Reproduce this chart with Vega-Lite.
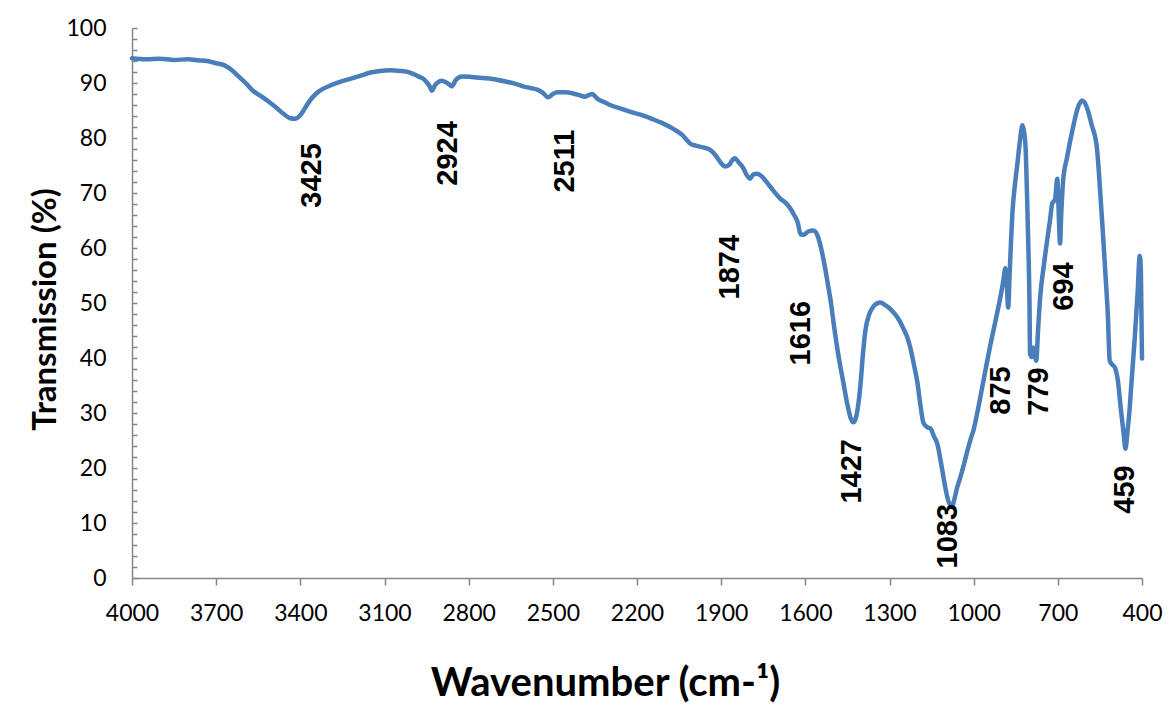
{
  "$schema": "https://vega.github.io/schema/vega-lite/v6.json",
  "autosize": {"type": "none"},
  "width": 1010,
  "height": 550,
  "padding": {"left": 132, "top": 28, "right": 28, "bottom": 149},
  "background": "white",
  "config": {"view": {"stroke": null}},
  "datasets": {
    "curve": [
      {"w":4000,"t":94.5},{"w":3950,"t":94.3},{"w":3900,"t":94.4},{"w":3850,"t":94.2},{"w":3800,"t":94.3},{"w":3760,"t":94.1},{"w":3733,"t":94.0},{"w":3700,"t":93.6},{"w":3670,"t":93.2},{"w":3651,"t":92.6},{"w":3620,"t":91.2},{"w":3595,"t":90.0},{"w":3569,"t":88.6},{"w":3540,"t":87.6},{"w":3510,"t":86.5},{"w":3483,"t":85.4},{"w":3460,"t":84.4},{"w":3437,"t":83.6},{"w":3420,"t":83.5},{"w":3401,"t":84.1},{"w":3385,"t":85.3},{"w":3366,"t":86.8},{"w":3345,"t":88.0},{"w":3330,"t":88.6},{"w":3295,"t":89.5},{"w":3259,"t":90.2},{"w":3220,"t":90.8},{"w":3187,"t":91.3},{"w":3150,"t":91.9},{"w":3116,"t":92.2},{"w":3080,"t":92.3},{"w":3045,"t":92.2},{"w":3009,"t":91.9},{"w":2980,"t":91.2},{"w":2960,"t":90.7},{"w":2949,"t":90.1},{"w":2940,"t":89.5},{"w":2931,"t":88.6},{"w":2920,"t":89.6},{"w":2907,"t":90.2},{"w":2896,"t":90.4},{"w":2880,"t":90.1},{"w":2868,"t":89.7},{"w":2860,"t":89.4},{"w":2845,"t":90.6},{"w":2824,"t":91.2},{"w":2790,"t":91.1},{"w":2749,"t":90.9},{"w":2700,"t":90.6},{"w":2653,"t":90.1},{"w":2630,"t":89.8},{"w":2606,"t":89.4},{"w":2580,"t":89.1},{"w":2556,"t":88.8},{"w":2535,"t":88.2},{"w":2517,"t":87.4},{"w":2500,"t":88.0},{"w":2482,"t":88.3},{"w":2455,"t":88.3},{"w":2428,"t":88.1},{"w":2405,"t":87.8},{"w":2386,"t":87.5},{"w":2372,"t":87.8},{"w":2360,"t":88.0},{"w":2350,"t":87.6},{"w":2343,"t":87.2},{"w":2320,"t":86.6},{"w":2296,"t":86.0},{"w":2255,"t":85.3},{"w":2214,"t":84.6},{"w":2180,"t":84.1},{"w":2143,"t":83.4},{"w":2110,"t":82.7},{"w":2072,"t":81.7},{"w":2040,"t":80.6},{"w":2020,"t":79.5},{"w":2011,"t":79.0},{"w":1990,"t":78.6},{"w":1965,"t":78.3},{"w":1945,"t":78.0},{"w":1929,"t":77.4},{"w":1915,"t":76.5},{"w":1900,"t":75.4},{"w":1886,"t":74.8},{"w":1870,"t":75.2},{"w":1860,"t":76.0},{"w":1851,"t":76.3},{"w":1838,"t":75.6},{"w":1822,"t":74.6},{"w":1808,"t":73.2},{"w":1797,"t":72.6},{"w":1785,"t":73.4},{"w":1772,"t":73.5},{"w":1755,"t":73.0},{"w":1735,"t":71.8},{"w":1712,"t":70.3},{"w":1690,"t":69.0},{"w":1672,"t":68.3},{"w":1655,"t":67.3},{"w":1640,"t":66.0},{"w":1627,"t":64.6},{"w":1617,"t":62.5},{"w":1605,"t":62.4},{"w":1590,"t":63.0},{"w":1571,"t":63.2},{"w":1556,"t":62.2},{"w":1544,"t":60.0},{"w":1530,"t":56.5},{"w":1520,"t":53.5},{"w":1510,"t":50.5},{"w":1497,"t":45.5},{"w":1485,"t":41.4},{"w":1464,"t":35.4},{"w":1450,"t":31.5},{"w":1438,"t":29.0},{"w":1428,"t":28.3},{"w":1418,"t":29.5},{"w":1410,"t":32.0},{"w":1403,"t":35.4},{"w":1395,"t":40.5},{"w":1386,"t":45.0},{"w":1372,"t":48.0},{"w":1357,"t":49.4},{"w":1345,"t":49.9},{"w":1333,"t":50.1},{"w":1315,"t":49.6},{"w":1295,"t":48.8},{"w":1272,"t":47.4},{"w":1250,"t":45.3},{"w":1237,"t":43.8},{"w":1226,"t":41.9},{"w":1213,"t":38.8},{"w":1200,"t":35.4},{"w":1190,"t":31.5},{"w":1179,"t":28.2},{"w":1165,"t":27.4},{"w":1154,"t":27.2},{"w":1142,"t":25.8},{"w":1129,"t":24.3},{"w":1115,"t":20.5},{"w":1103,"t":17.0},{"w":1093,"t":14.5},{"w":1082,"t":13.2},{"w":1075,"t":13.2},{"w":1068,"t":14.5},{"w":1058,"t":16.6},{"w":1047,"t":18.4},{"w":1034,"t":20.8},{"w":1022,"t":23.2},{"w":1010,"t":25.4},{"w":1001,"t":26.8},{"w":985,"t":30.6},{"w":965,"t":35.9},{"w":944,"t":41.5},{"w":922,"t":46.8},{"w":905,"t":51.0},{"w":895,"t":53.8},{"w":887,"t":56.3},{"w":882,"t":53.5},{"w":877,"t":49.2},{"w":872,"t":55.0},{"w":867,"t":61.0},{"w":862,"t":66.3},{"w":853,"t":71.5},{"w":844,"t":75.4},{"w":835,"t":79.5},{"w":826,"t":82.3},{"w":820,"t":81.0},{"w":815,"t":78.3},{"w":810,"t":70.0},{"w":805,"t":60.1},{"w":801,"t":50.0},{"w":799,"t":40.8},{"w":793,"t":40.2},{"w":787,"t":41.9},{"w":782,"t":40.5},{"w":777,"t":39.5},{"w":770,"t":45.5},{"w":763,"t":51.0},{"w":750,"t":56.8},{"w":738,"t":61.4},{"w":728,"t":65.0},{"w":720,"t":68.1},{"w":710,"t":68.8},{"w":702,"t":72.6},{"w":698,"t":68.0},{"w":692,"t":60.8},{"w":688,"t":66.0},{"w":681,"t":72.3},{"w":667,"t":76.5},{"w":646,"t":81.9},{"w":630,"t":85.3},{"w":620,"t":86.5},{"w":614,"t":86.8},{"w":605,"t":86.5},{"w":593,"t":85.0},{"w":580,"t":82.5},{"w":561,"t":78.3},{"w":550,"t":71.0},{"w":540,"t":63.2},{"w":530,"t":55.0},{"w":522,"t":48.1},{"w":515,"t":39.5},{"w":506,"t":38.8},{"w":497,"t":38.3},{"w":486,"t":35.9},{"w":476,"t":31.0},{"w":466,"t":26.5},{"w":459,"t":23.5},{"w":452,"t":26.5},{"w":444,"t":30.8},{"w":437,"t":35.9},{"w":426,"t":43.5},{"w":416,"t":51.5},{"w":408,"t":58.6},{"w":404,"t":56.0},{"w":400,"t":39.9}
    ],
    "peaks": [
      {"label":"3425","w":3357,"t":73.2},
      {"label":"2924","w":2872,"t":77.2},
      {"label":"2511","w":2455,"t":75.8},
      {"label":"1874","w":1870,"t":56.5},
      {"label":"1616","w":1614,"t":44.5},
      {"label":"1427","w":1432,"t":19.4},
      {"label":"1083","w":1090,"t":7.6},
      {"label":"875","w":901,"t":34.1},
      {"label":"779","w":766,"t":33.9},
      {"label":"694","w":677,"t":53.0},
      {"label":"459","w":459,"t":16.1}
    ]
  },
  "resolve": {"axis": {"y": "independent"}},
  "layer": [
    {
      "data": {"name": "curve"},
      "mark": {"type": "line", "color": "#4A7EBB", "strokeWidth": 4.5, "strokeJoin": "round", "strokeCap": "round", "interpolate": "monotone", "clip": false},
      "encoding": {
        "x": {
          "field": "w", "type": "quantitative",
          "scale": {"domain": [400, 4000], "reverse": true, "nice": false, "zero": false},
          "axis": {
            "title": "Wavenumber (cm-¹)",
            "values": [4000,3700,3400,3100,2800,2500,2200,1900,1600,1300,1000,700,400],
            "format": "d",
            "grid": false,
            "domainColor": "#868686", "domainWidth": 1.5,
            "tickColor": "#868686", "tickSize": 7, "tickWidth": 1.5,
            "labelFont": "Lato", "labelFontSize": 23, "labelColor": "black",
            "labelPadding": 17, "labelBaseline": "top", "labelFlush": false, "labelOverlap": false,
            "titleFont": "Lato", "titleFontSize": 40, "titleFontWeight": "bold", "titleColor": "black",
            "titleX": 473, "titleY": 105, "titleBaseline": "middle", "titleAnchor": "middle", "titleAlign": "center"
          }
        },
        "y": {
          "field": "t", "type": "quantitative",
          "scale": {"domain": [0, 100], "nice": false},
          "axis": {
            "orient": "left",
            "title": "Transmission (%)",
            "values": [0,10,20,30,40,50,60,70,80,90,100],
            "format": "d",
            "grid": false,
            "domainColor": "#868686", "domainWidth": 1.5,
            "tickColor": "#868686", "tickSize": -5, "tickWidth": 1.5,
            "labelFont": "Lato", "labelFontSize": 23, "labelColor": "black",
            "labelPadding": 31, "labelBaseline": "middle", "labelFlush": false, "labelOverlap": false,
            "titleFont": "Lato", "titleFontSize": 33, "titleFontWeight": "bold", "titleColor": "black",
            "titleX": -87, "titleY": 281, "titleBaseline": "middle", "titleAngle": 270, "titleAlign": "center"
          }
        }
      }
    },
    {
      "data": {"name": "peaks"},
      "mark": {"type": "text", "angle": 270, "font": "Liberation Sans", "fontWeight": "bold", "fontSize": 29, "align": "center", "baseline": "middle", "color": "black"},
      "encoding": {
        "x": {"field": "w", "type": "quantitative"},
        "y": {
          "field": "t", "type": "quantitative",
          "axis": {
            "orient": "left",
            "title": null,
            "values": [2,4,6,8,12,14,16,18,22,24,26,28,32,34,36,38,42,44,46,48,52,54,56,58,62,64,66,68,72,74,76,78,82,84,86,88,92,94,96,98],
            "labels": false,
            "domain": false,
            "grid": false,
            "offset": 0,
            "tickColor": "#868686", "tickSize": -5, "tickWidth": 1.5
          }
        },
        "text": {"field": "label"}
      }
    }
  ]
}
